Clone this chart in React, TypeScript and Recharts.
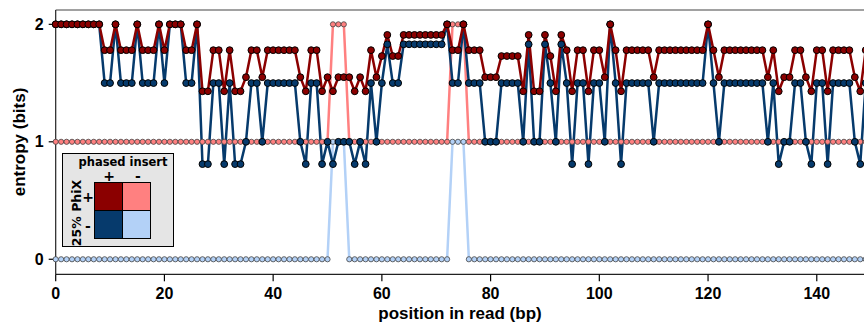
import { LineChart, Line, XAxis, YAxis, ReferenceLine } from 'recharts';

// entropy per read position, 0..149
const darkRed = [
  2, 2, 2, 2, 2, 2, 2, 2, 2, 1.78,
  1.78, 2, 1.78, 1.78, 1.78, 2, 1.78, 1.78, 1.78, 2,
  1.78, 2, 2, 2, 1.78, 1.78, 2, 1.43, 1.43, 1.78,
  1.78, 1.43, 1.78, 1.43, 1.43, 1.55, 1.78, 1.78, 1.55, 1.78,
  1.78, 1.78, 1.78, 1.78, 1.78, 1.55, 1.43, 1.78, 1.78, 1.43,
  1.55, 1.43, 1.55, 1.55, 1.55, 1.43, 1.55, 1.43, 1.78, 1.55,
  1.73, 1.91, 1.73, 1.73, 1.91, 1.91, 1.91, 1.91, 1.91, 1.91,
  1.91, 1.91, 2, 1.78, 1.78, 2, 1.78, 1.78, 1.78, 1.55,
  1.55, 1.55, 1.73, 1.73, 1.73, 1.73, 1.43, 1.91, 1.43, 1.43,
  1.91, 1.73, 1.43, 1.91, 1.78, 1.43, 1.78, 1.78, 1.43, 1.78,
  1.78, 1.55, 2, 1.78, 1.43, 1.78, 1.78, 1.78, 1.78, 1.78,
  1.55, 1.78, 1.78, 1.78, 1.78, 1.78, 1.78, 1.78, 1.78, 1.78,
  2, 1.78, 1.55, 1.78, 1.78, 1.78, 1.78, 1.78, 1.78, 1.78,
  1.78, 1.55, 1.78, 1.43, 1.55, 1.55, 1.78, 1.78, 1.55, 1.43,
  1.78, 1.78, 1.43, 1.78, 1.78, 1.78, 1.78, 1.55, 1.43, 1.78,
];

const darkBlue = [
  2, 2, 2, 2, 2, 2, 2, 2, 2, 1.5,
  1.5, 2, 1.5, 1.5, 1.5, 2, 1.5, 1.5, 1.5, 2,
  1.5, 2, 2, 2, 1.5, 1.5, 2, 0.81, 0.81, 1.5,
  1.5, 0.81, 1.5, 0.81, 0.81, 1, 1.5, 1.5, 1, 1.5,
  1.5, 1.5, 1.5, 1.5, 1.5, 1, 0.81, 1.5, 1.5, 0.81,
  1, 0.81, 1, 1, 1, 0.81, 1, 0.81, 1.5, 1,
  1.5, 1.83, 1.5, 1.5, 1.83, 1.83, 1.83, 1.83, 1.83, 1.83,
  1.83, 1.83, 2, 1.5, 1.5, 2, 1.5, 1.5, 1.5, 1,
  1, 1, 1.5, 1.5, 1.5, 1.5, 1, 1.83, 1, 1,
  1.83, 1.5, 1, 1.83, 1.5, 0.81, 1.5, 1.5, 0.81, 1.5,
  1.5, 1, 2, 1.5, 0.81, 1.5, 1.5, 1.5, 1.5, 1.5,
  1, 1.5, 1.5, 1.5, 1.5, 1.5, 1.5, 1.5, 1.5, 1.5,
  2, 1.5, 1, 1.5, 1.5, 1.5, 1.5, 1.5, 1.5, 1.5,
  1.5, 1, 1.5, 0.81, 1, 1, 1.5, 1.5, 1, 0.81,
  1.5, 1.5, 0.81, 1.5, 1.5, 1.5, 1.5, 1, 0.81, 1.5,
];

const lightRed = [
  1, 1, 1, 1, 1, 1, 1, 1, 1, 1,
  1, 1, 1, 1, 1, 1, 1, 1, 1, 1,
  1, 1, 1, 1, 1, 1, 1, 1, 1, 1,
  1, 1, 1, 1, 1, 1, 1, 1, 1, 1,
  1, 1, 1, 1, 1, 1, 1, 1, 1, 1,
  1, 2, 2, 2, 1, 1, 1, 1, 1, 1,
  1, 1, 1, 1, 1, 1, 1, 1, 1, 1,
  1, 1, 1, 2, 2, 2, 1, 1, 1, 1,
  1, 1, 1, 1, 1, 1, 1, 1, 1, 1,
  1, 1, 1, 1, 1, 1, 1, 1, 1, 1,
  1, 1, 1, 1, 1, 1, 1, 1, 1, 1,
  1, 1, 1, 1, 1, 1, 1, 1, 1, 1,
  1, 1, 1, 1, 1, 1, 1, 1, 1, 1,
  1, 1, 1, 1, 1, 1, 1, 1, 1, 1,
  1, 1, 1, 1, 1, 1, 1, 1, 1, 1,
];

const lightBlue = [
  0, 0, 0, 0, 0, 0, 0, 0, 0, 0,
  0, 0, 0, 0, 0, 0, 0, 0, 0, 0,
  0, 0, 0, 0, 0, 0, 0, 0, 0, 0,
  0, 0, 0, 0, 0, 0, 0, 0, 0, 0,
  0, 0, 0, 0, 0, 0, 0, 0, 0, 0,
  0, 1, 1, 1, 0, 0, 0, 0, 0, 0,
  0, 0, 0, 0, 0, 0, 0, 0, 0, 0,
  0, 0, 0, 1, 1, 1, 0, 0, 0, 0,
  0, 0, 0, 0, 0, 0, 0, 0, 0, 0,
  0, 0, 0, 0, 0, 0, 0, 0, 0, 0,
  0, 0, 0, 0, 0, 0, 0, 0, 0, 0,
  0, 0, 0, 0, 0, 0, 0, 0, 0, 0,
  0, 0, 0, 0, 0, 0, 0, 0, 0, 0,
  0, 0, 0, 0, 0, 0, 0, 0, 0, 0,
  0, 0, 0, 0, 0, 0, 0, 0, 0, 0,
];

const xTicks = [0, 20, 40, 60, 80, 100, 120, 140];
const yTicks = [0, 1, 2];

const DARK_RED = '#8b0000';
const PINK = '#ff8080';
const DARK_BLUE = '#063a6c';
const LIGHT_BLUE = '#b3d1f7';

const Y_MIN = -0.128;
const Y_MAX = 2.122;

const data = darkRed.map((v, i) => ({
  pos: i,
  rr: v,
  bb: darkBlue[i],
  lr: lightRed[i],
  lb: lightBlue[i],
}));

const tickFont = { fontFamily: 'Liberation Sans', fontWeight: 700, fontSize: 16, fill: '#000' };
const legendFont = { fontFamily: 'DejaVu Sans', fontWeight: 700, color: '#000' };

function PhasedLegend() {
  const sq = 29;
  const cell = (bg: string, left: number, top: number) => (
    <div
      style={{
        position: 'absolute',
        left,
        top,
        width: sq,
        height: sq,
        background: bg,
        boxSizing: 'border-box',
        border: '1px solid #000',
      }}
    />
  );
  const sign = (s: string, left: number, top: number) => (
    <div
      style={{
        ...legendFont,
        position: 'absolute',
        left,
        top,
        width: 16,
        height: 10,
        textAlign: 'center',
        fontSize: 14,
        lineHeight: '10px',
      }}
    >
      {s}
    </div>
  );
  return (
    <div
      style={{
        position: 'absolute',
        left: 62,
        top: 153,
        width: 112,
        height: 94,
        background: '#e5e5e5',
        border: '1.5px solid #000',
        boxSizing: 'border-box',
      }}
    >
      <div
        style={{
          ...legendFont,
          position: 'absolute',
          left: 10,
          width: 100,
          top: 2,
          height: 12,
          fontSize: 11.5,
          textAlign: 'center',
          lineHeight: '12px',
          whiteSpace: 'nowrap',
        }}
      >
        phased insert
      </div>
      {sign('+', 38, 17)}
      {sign('-', 67, 17)}
      <div
        style={{
          ...legendFont,
          position: 'absolute',
          left: 13,
          top: 59,
          fontSize: 12.5,
          lineHeight: '13px',
          whiteSpace: 'nowrap',
          transform: 'translate(-50%, -50%) rotate(-90deg)',
        }}
      >
        25% PhiX
      </div>
      {sign('+', 17, 38)}
      {sign('-', 17, 67)}
      {cell(DARK_RED, 31, 28)}
      {cell(PINK, 59, 28)}
      {cell(DARK_BLUE, 31, 56)}
      {cell(LIGHT_BLUE, 59, 56)}
    </div>
  );
}

export default function App() {
  return (
    <div style={{ position: 'absolute', left: 0, top: 0, width: 864, height: 323, overflow: 'hidden', background: '#fff' }}>
      <LineChart
        width={870}
        height={323}
        data={data}
        margin={{ top: 10, right: 4.3, left: 5.7, bottom: 18.7 }}
      >
        <XAxis
          dataKey="pos"
          type="number"
          domain={[0, 149]}
          ticks={xTicks}
          height={30}
          tickSize={7}
          tickMargin={6}
          tick={tickFont}
          stroke="#000"
          axisLine={{ stroke: '#222', strokeWidth: 1.2 }}
          tickLine={{ stroke: '#000', strokeWidth: 1.2 }}
        />
        <YAxis
          type="number"
          domain={[Y_MIN, Y_MAX]}
          ticks={yTicks}
          width={50}
          tickSize={7}
          tickMargin={5}
          tick={tickFont}
          axisLine={{ stroke: '#222', strokeWidth: 1.2 }}
          tickLine={{ stroke: '#000', strokeWidth: 1.2 }}
        />
        <ReferenceLine y={Y_MAX} stroke="#444" strokeWidth={1.2} />
        <Line
          dataKey="lb"
          type="linear"
          stroke={LIGHT_BLUE}
          strokeWidth={2.5}
          dot={{ r: 2.6, fill: LIGHT_BLUE, stroke: '#444', strokeWidth: 0.8 }}
          isAnimationActive={false}
        />
        <Line
          dataKey="lr"
          type="linear"
          stroke={PINK}
          strokeWidth={2.5}
          dot={{ r: 2.6, fill: PINK, stroke: '#444', strokeWidth: 0.8 }}
          isAnimationActive={false}
        />
        <Line
          dataKey="bb"
          type="linear"
          stroke={DARK_BLUE}
          strokeWidth={2.5}
          dot={{ r: 3.4, fill: DARK_BLUE, stroke: '#000', strokeWidth: 1 }}
          isAnimationActive={false}
        />
        <Line
          dataKey="rr"
          type="linear"
          stroke={DARK_RED}
          strokeWidth={2.5}
          dot={{ r: 3.4, fill: DARK_RED, stroke: '#000', strokeWidth: 1 }}
          isAnimationActive={false}
        />
      </LineChart>
      <div
        style={{
          position: 'absolute',
          left: 20,
          top: 142,
          transform: 'translate(-50%, -50%) rotate(-90deg)',
          whiteSpace: 'nowrap',
          fontFamily: 'Liberation Sans',
          fontWeight: 700,
          fontSize: 17,
        }}
      >
        entropy (bits)
      </div>
      <div
        style={{
          position: 'absolute',
          left: 460,
          top: 314,
          transform: 'translate(-50%, -50%)',
          whiteSpace: 'nowrap',
          fontFamily: 'Liberation Sans',
          fontWeight: 700,
          fontSize: 17,
        }}
      >
        position in read (bp)
      </div>
      <PhasedLegend />
    </div>
  );
}
